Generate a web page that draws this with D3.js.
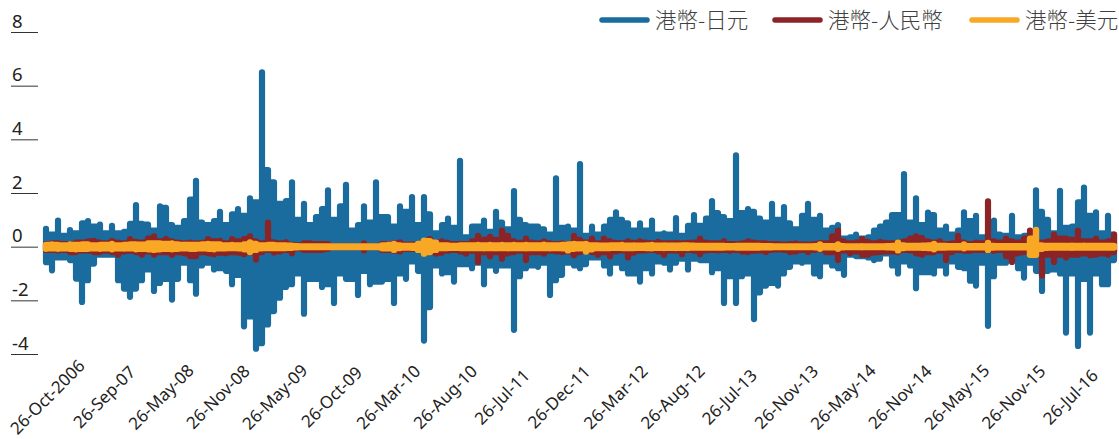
<!DOCTYPE html>
<html><head><meta charset="utf-8">
<script src="https://cdn.jsdelivr.net/npm/d3@7"></script>
<style>html,body{margin:0;padding:0;background:#fff}svg{display:block}</style>
</head><body><svg id="c" width="1119" height="439"></svg>
<script>
const tickLabels=["26-Oct-2006","26-Sep-07","26-May-08","26-Nov-08","26-May-09","26-Oct-09","26-Mar-10","26-Aug-10","26-Jul-11","26-Dec-11","26-Mar-12","26-Aug-12","26-Jul-13","26-Nov-13","26-May-14","26-Nov-14","26-May-15","26-Nov-15","26-Jul-16"];
const yTicks=[-4,-2,0,2,4,6,8];
const legendNames=["港幣-日元","港幣-人民幣","港幣-美元"];
const colors=["#1a6c9e","#8c2327","#f9a826"];

const jpyHigh=[.66,.45,.97,.4,.62,.5,.87,.95,.75,.82,.5,.78,.5,.55,.85,1.55,.85,.82,.6,1.5,1.45,.8,.7,.95,1.75,2.45,.9,.8,.95,1.3,
.8,1.2,1.4,1.15,1.8,1.65,6.5,2.85,2.4,1.6,1.7,2.4,1.0,1.6,.8,1.1,1.4,2.1,1.0,1.5,2.3,.6,.8,1.5,.9,2.4,1.1,1.1,.75,1.5,
1.3,1.85,.8,1.85,1.2,.5,.8,1.05,.7,3.2,.35,.75,.75,.97,.55,1.3,.9,.65,2.07,1.0,.8,.75,.75,.65,.45,2.55,.7,.75,.6,3.08,
.4,.75,.45,.75,1.0,1.28,1.0,.87,.6,.87,.6,.97,.45,.5,.45,1.06,.4,.78,1.18,.78,1.05,1.7,1.25,1.1,.95,3.4,1.25,1.4,1.3,1.05,
.9,1.6,1.0,1.47,.87,.65,1.15,1.6,1.0,1.15,.6,.7,.8,.3,.35,.45,.3,.35,.6,.75,.9,1.18,1.18,2.7,.9,1.8,.8,1.27,1.18,.6,
.75,.45,.6,1.28,.95,1.15,.35,.5,.97,.45,.4,1.15,.35,.4,.5,2.1,1.3,1.0,.5,2.08,.7,.75,1.65,2.2,1.15,1.28,.5,1.15,.45];
const jpyLow=[-.58,-.88,-.4,-.4,-.5,-1.19,-2.06,-1.25,-.63,-.3,-.3,-.3,-1.25,-1.56,-1.87,-1.56,-1.25,-.85,-1.65,-1.35,-1.2,-1.97,-1.2,-.6,-1.25,-1.75,-.7,-.6,-.85,-.8,
-.9,-1.4,-1.05,-2.97,-2.6,-3.8,-3.6,-2.9,-2.4,-1.9,-1.5,-1.4,-1.0,-2.5,-1.2,-1.2,-1.5,-1.4,-2.1,-1.0,-1.2,-1.2,-1.8,-.9,-1.4,-1.3,-1.3,-1.2,-2.1,-1.0,
-1.2,-.55,-.9,-3.5,-2.25,-.7,-1.0,-.95,-1.3,-.65,-.65,-.8,-.6,-1.4,-.7,-.9,-.7,-.7,-3.1,-1.1,-.8,-.7,-.75,-.6,-1.8,-1.25,-1.05,-.6,-.7,-.8,
-.65,-.4,-.4,-.7,-1.0,-.6,-.8,-1.0,-1.0,-1.3,-.8,-1.0,-.55,-.6,-.85,-.6,-.45,-.85,-.45,-.5,-.5,-.95,-.8,-2.1,-1.1,-2.1,-1.1,-1.0,-2.7,-1.7,
-1.45,-1.35,-1.45,-1.0,-.75,-.55,-.6,-.55,-1.0,-1.1,-.55,-.7,-.8,-1.05,-.3,-.35,-.35,-.4,-.5,-.45,-.25,-.7,-1.0,-.55,-.7,-1.55,-.95,-.95,-1.0,-.7,
-1.0,-.55,-.75,-.8,-1.27,-1.45,-.6,-2.95,-1.1,-.6,-.6,-.5,-.8,-1.15,-.6,-.9,-1.65,-.9,-.85,-1.0,-3.2,-1.0,-3.7,-1.2,-3.2,-1.0,-1.4,-1.4,-.5];

const cnyHigh=[.1,.12,.12,.1,.1,.15,.15,.2,.22,.15,.12,.22,.15,.12,.28,.18,.15,.3,.38,.2,.28,.2,.15,.12,.15,.12,.14,.28,.2,.22,
.12,.28,.2,.28,.38,.2,.12,.9,.16,.12,.16,.08,.05,.12,.12,.1,.1,.1,.02,.02,.02,.02,.02,.12,.02,.02,.1,.1,.12,.16,
.08,.08,.1,.12,.28,.15,.2,.14,.1,.1,.1,.2,.4,.25,.37,.25,.6,.4,.2,.14,.3,.15,.12,.2,.12,.1,.12,.1,.4,.25,
.15,.3,.12,.3,.2,.14,.12,.2,.14,.2,.15,.12,.18,.12,.12,.14,.12,.14,.15,.3,.15,.12,.12,.2,.1,.1,.12,.2,.15,.12,
.12,.1,.1,.08,.1,.12,.08,.08,.1,.14,.12,.38,.6,.2,.12,.15,.28,.18,.12,.18,.14,.12,.15,.2,.3,.38,.32,.2,.15,.2,
.1,.12,.4,.15,.1,.15,.12,1.69,.2,.15,.3,.2,.15,.3,.6,.2,.15,.2,.45,.3,.3,.25,.6,.2,.2,.3,.15,.2,.45];
const cnyLow=[-.12,-.12,-.14,-.12,-.2,-.2,-.14,-.15,-.2,-.2,-.15,-.2,-.3,-.18,-.15,-.2,-.3,-.18,-.3,-.2,-.2,-.3,-.2,-.25,-.35,-.35,-.2,-.25,-.28,-.22,
-.25,-.2,-.22,-.28,-.2,-.48,-.2,-.12,-.22,-.18,-.12,-.25,-.06,-.12,-.12,-.12,-.12,-.08,-.02,-.02,-.02,-.02,-.02,-.14,-.02,-.02,-.12,-.12,-.15,-.18,
-.08,-.08,-.12,-.15,-.18,-.26,-.22,-.15,-.12,-.18,-.26,-.15,-.57,-.2,-.36,-.2,-.45,-.25,-.2,-.15,-.5,-.2,-.2,-.26,-.15,-.18,-.2,-.18,-.32,-.2,
-.15,-.2,-.3,-.2,-.36,-.18,-.14,-.4,-.22,-.15,-.14,-.12,-.18,-.3,-.14,-.15,-.28,-.12,-.15,-.28,-.14,-.12,-.14,-.12,-.15,-.12,-.18,-.2,-.15,-.14,
-.2,-.12,-.1,-.12,-.2,-.18,-.12,-.2,-.12,-.1,-.2,-.2,-.5,-.14,-.25,-.18,-.3,-.3,-.22,-.2,-.18,-.18,-.2,-.12,-.14,-.25,-.3,-.2,-.2,-.15,
-.5,-.2,-.12,-.15,-.15,-.12,-.12,-.12,-.15,-.12,-.35,-.57,-.25,-.2,-.15,-.2,-1.07,-.3,-.57,-.3,-.4,-.3,-.3,-.25,-.32,-.3,-.25,-.3,-.2];

const usdHigh=[.06,.08,.06,.05,.08,.06,.08,.08,.05,.06,.06,.1,.05,.06,.08,.08,.07,.12,.12,.12,.1,.12,.08,.06,.06,.06,.08,.1,.08,.08,
.05,.06,.05,.08,.16,.1,.05,.06,.06,.05,.05,.04,.02,.01,.01,.01,.01,.01,.01,.01,.01,.01,.01,.01,.01,.01,.05,.06,.1,.05,
.03,.03,.1,.22,.2,.15,.05,.05,.03,.05,.05,.05,.06,.05,.06,.05,.06,.05,.06,.05,.06,.05,.05,.07,.05,.05,.06,.08,.1,.08,
.1,.05,.05,.04,.05,.05,.06,.04,.05,.04,.05,.06,.04,.05,.04,.04,.05,.05,.04,.03,.03,.03,.03,.03,.02,.03,.03,.03,.03,.03,
.02,.02,.01,.01,.01,.01,.01,.01,.02,.08,.02,.02,.08,.02,.01,.01,.02,.01,.01,.01,.02,.03,.15,.05,.03,.03,.04,.05,.1,.03,
.03,.02,.02,.08,.02,.02,.02,.14,.03,.02,.02,.02,.02,.02,.3,.62,.05,.03,.03,.03,.03,.04,.03,.04,.03,.03,.03,.03,.03];
const usdLow=[-.08,-.06,-.08,-.06,-.08,-.1,-.08,-.08,-.06,-.08,-.06,-.1,-.06,-.07,-.06,-.1,-.08,-.1,-.12,-.1,-.08,-.1,-.08,-.06,-.08,-.08,-.06,-.08,-.1,-.06,
-.06,-.05,-.06,-.1,-.2,-.12,-.06,-.05,-.05,-.05,-.05,-.04,-.02,-.01,-.01,-.01,-.01,-.01,-.01,-.01,-.01,-.01,-.01,-.01,-.01,-.01,-.06,-.06,-.12,-.05,
-.03,-.04,-.12,-.26,-.2,-.12,-.05,-.05,-.04,-.05,-.05,-.05,-.05,-.06,-.05,-.06,-.05,-.06,-.05,-.05,-.06,-.05,-.05,-.05,-.06,-.05,-.06,-.14,-.08,-.06,
-.18,-.1,-.05,-.05,-.05,-.04,-.05,-.05,-.05,-.04,-.05,-.06,-.04,-.05,-.04,-.05,-.04,-.05,-.03,-.03,-.03,-.03,-.03,-.03,-.02,-.03,-.03,-.03,-.03,-.03,
-.02,-.02,-.01,-.01,-.01,-.01,-.01,-.01,-.02,-.08,-.02,-.02,-.08,-.02,-.01,-.01,-.02,-.01,-.01,-.01,-.02,-.03,-.14,-.05,-.03,-.03,-.04,-.05,-.1,-.03,
-.03,-.02,-.02,-.06,-.02,-.02,-.02,-.12,-.03,-.02,-.02,-.02,-.02,-.02,-.3,-.3,-.08,-.04,-.03,-.03,-.03,-.04,-.03,-.03,-.03,-.03,-.03,-.03,-.03];

const svg=d3.select("#c");
const x=d3.scaleLinear().domain([0,jpyHigh.length-1]).range([46,1114]);
const y=d3.scaleLinear().domain([-4,8]).range([354,32]);
const font='"Noto Sans","DejaVu Sans",sans-serif';

const yAxis=svg.append("g").attr("transform","translate(38,0)")
 .call(d3.axisLeft(y).tickValues(yTicks).tickSize(27).tickFormat(String));
yAxis.select(".domain").remove();
yAxis.selectAll("line").attr("stroke","#333").attr("stroke-width",1);
yAxis.selectAll("text").attr("x",-26).attr("y",-5).attr("dy",0).attr("text-anchor","start")
 .attr("fill","#222").style("font",`18.5px ${font}`);

const tickScale=d3.scalePoint().domain(tickLabels).range([47,1070]);
const xAxis=svg.append("g").attr("transform","translate(0,397)")
 .call(d3.axisBottom(tickScale).tickSize(0));
xAxis.select(".domain").remove();
xAxis.selectAll("line").remove();
xAxis.selectAll("text").attr("y",0).attr("dy",".35em").attr("text-anchor","middle")
 .attr("transform","rotate(-45)").attr("fill","#222").style("font",`17px ${font}`);

const line=d3.line().x(d=>x(d[0])).y(d=>y(d[1]));
// each period's range is a vertical stroke; neighbours join at the lower of their two extremes
function trace(high,low){
 return high.flatMap((h,i)=>{
  const pts=[[i,low[i]],[i,h]];
  if(i<high.length-1){
   const t=Math.min(h,high[i+1]), b=Math.max(low[i],low[i+1]);
   pts.push([i,t],[i+1,t],[i+1,b],[i,b],[i+1,b]);
  }
  return pts;
 });
}
[[jpyHigh,jpyLow],[cnyHigh,cnyLow],[usdHigh,usdLow]].forEach((s,k)=>{
 svg.append("path").attr("d",line(trace(s[0],s[1]))).attr("fill","none").attr("stroke",colors[k])
  .attr("stroke-width",k==2?6.4:6.2).attr("stroke-linejoin","round").attr("stroke-linecap","round");
});

const legendX=[[602,647,655],[775,820,828],[972,1017,1025]];
legendNames.forEach((n,k)=>{
 svg.append("line").attr("x1",legendX[k][0]).attr("x2",legendX[k][1]).attr("y1",20).attr("y2",20)
  .attr("stroke",colors[k]).attr("stroke-width",5.5).attr("stroke-linecap","round");
 svg.append("text").attr("x",legendX[k][2]).attr("y",28).text(n).attr("fill","#404040")
  .style("font",'300 21.5px "Noto Sans CJK TC","Noto Sans CJK SC",sans-serif');
});
</script></body></html>
